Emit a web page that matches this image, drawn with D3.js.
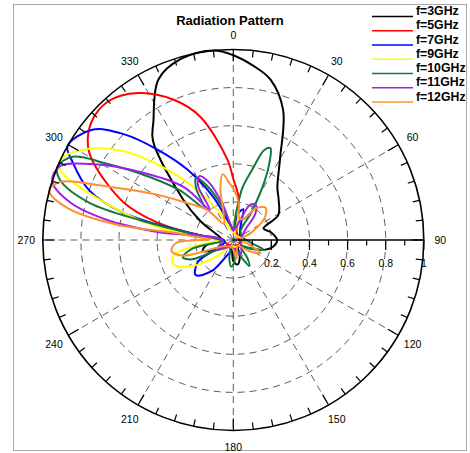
<!DOCTYPE html>
<html><head><meta charset="utf-8">
<script src="https://cdn.jsdelivr.net/npm/d3@7"></script>
<style>body{margin:0;background:#fff}svg{display:block}</style>
</head><body>
<svg id="chart" width="470" height="453"></svg>
<script>
// ---- data: [angle in degrees (0 = top, clockwise), normalized gain] ----
const seriesNames = ["f=3GHz", "f=5GHz", "f=7GHz", "f=9GHz", "f=10GHz", "f=11GHz", "f=12GHz"];
const seriesColors = ["#000000", "#ff0000", "#0000ff", "#ffff00", "#0f7a3e", "#a020e8", "#ff9032"];

const f3GHz = [[0,0.97],[6.6,0.92],[13,0.865],[21,0.73],[30,0.49],[40,0.36],[48,0.32],[61,0.27],[69,0.17],[78,0.2],[90,0.23],[100,0.21],[109,0.16],[120,0.08],[140,0.04],[160,0.1],[170,0.13],[180,0.11],[195,0.04],[225,0.04],[240,0.1],[250,0.17],[258,0.15],[270,0.06],[285,0.08],[300,0.2],[309,0.34],[321,0.67],[326,0.75],[335,0.93],[344,0.99],[354,1.0]];
const f5GHz = [[0,0.32],[6,0.24],[10,0.15],[20,0.05],[60,0.03],[120,0.04],[180,0.03],[240,0.04],[270,0.05],[278,0.18],[283,0.41],[289,0.61],[299,0.84],[303,0.91],[310,0.97],[318,0.98],[327,0.92],[337,0.80],[345,0.67],[356,0.42]];
const f7GHz = [[0,0.06],[10,0.14],[18,0.17],[28,0.08],[60,0.04],[120,0.05],[180,0.05],[200,0.08],[215,0.2],[227,0.27],[238,0.22],[252,0.05],[270,0.05],[277,0.14],[281,0.35],[284,0.6],[289,0.8],[296,0.94],[299.5,1.0],[308,0.94],[314,0.80],[320,0.62],[327,0.44],[335,0.25],[345,0.1]];
const f9GHz = [[0,0.04],[3,0.1],[8,0.18],[13,0.1],[20,0.03],[90,0.06],[150,0.04],[210,0.04],[225,0.12],[238,0.26],[248,0.34],[256,0.32],[264,0.12],[271,0.06],[275,0.18],[280,0.41],[286,0.69],[292,0.98],[295,1.0],[301,0.92],[309,0.74],[316,0.53],[323,0.35],[332,0.18],[345,0.06]];
const f10GHz = [[0,0.05],[5,0.12],[10,0.28],[15,0.38],[19,0.5],[22,0.52],[25,0.45],[28,0.35],[33,0.18],[40,0.06],[70,0.05],[100,0.1],[108,0.17],[116,0.1],[130,0.05],[142,0.12],[148,0.16],[155,0.1],[165,0.05],[178,0.12],[185,0.14],[192,0.1],[210,0.04],[238,0.1],[245,0.24],[251,0.28],[258,0.22],[265,0.05],[271,0.07],[279,0.23],[282,0.5],[284.5,0.78],[289,0.96],[292.5,1.0],[297.4,0.95],[301,0.78],[307,0.55],[313,0.38],[318,0.23],[324,0.33],[329,0.38],[334,0.32],[342,0.18],[350,0.08]];
const f11GHz = [[0,0.05],[18,0.1],[25,0.2],[32,0.22],[40,0.18],[50,0.08],[90,0.04],[150,0.08],[200,0.04],[240,0.1],[268,0.06],[276,0.40],[279,0.67],[283,0.88],[288,1.0],[293,0.99],[298,0.85],[306,0.61],[317,0.38],[322,0.2],[327,0.34],[332,0.38],[337,0.33],[343,0.2],[350,0.08]];
const f12GHz = [[0,0.27],[8,0.2],[15,0.12],[25,0.12],[35,0.2],[45,0.24],[55,0.2],[68,0.1],[85,0.04],[105,0.08],[115,0.16],[125,0.1],[145,0.04],[170,0.1],[190,0.04],[230,0.05],[245,0.1],[253,0.28],[260,0.33],[267,0.3],[272,0.12],[275,0.2],[277,0.32],[277.5,0.62],[281,0.89],[285,1.0],[288.5,0.96],[293,0.72],[301,0.46],[308,0.32],[319,0.21],[330,0.1],[340,0.15],[346,0.28],[351,0.35],[356,0.3]];

const seriesData = [f3GHz, f5GHz, f7GHz, f9GHz, f10GHz, f11GHz, f12GHz];

const radialGrid = [0.2, 0.4, 0.6, 0.8];
const radialTickLabels = [0.2, 0.4, 0.6, 0.8, 1];
const radialMinorTicks = [0.1, 0.2, 0.3, 0.4, 0.5, 0.6, 0.7, 0.8, 0.9, 1.0];
const angleTickLabels = [0, 30, 60, 90, 120, 150, 180, 210, 240, 270, 300, 330];
const angleMinorStep = 6;
const titleText = "Radiation Pattern";

// ---- drawing ----
const svg = d3.select("#chart");
const cx = 233.3, cy = 240, R = 190.5;
const rScale = d3.scaleLinear().domain([0, 1]).range([0, R]);
const toRad = d => d * Math.PI / 180;
const px = (a, rr) => rr * Math.sin(toRad(a));
const py = (a, rr) => -rr * Math.cos(toRad(a));

// frame
svg.append("rect").attr("x", 13.5).attr("y", 4.5).attr("width", 453).attr("height", 446)
  .attr("fill", "none").attr("stroke", "#a8a8a8").attr("stroke-width", 1);

const g = svg.append("g").attr("transform", `translate(${cx},${cy})`);

// dashed grid circles
g.selectAll("circle.grid").data(radialGrid).join("circle")
  .attr("class", "grid").attr("r", d => rScale(d))
  .attr("fill", "none").attr("stroke", "#4a4a4a").attr("stroke-width", 0.9)
  .attr("stroke-dasharray", "7,5");

// dashed spokes
g.selectAll("line.spoke").data(angleTickLabels.filter(a => a !== 90)).join("line")
  .attr("class", "spoke")
  .attr("x1", 0).attr("y1", 0)
  .attr("x2", a => px(a, R)).attr("y2", a => py(a, R))
  .attr("stroke", "#4a4a4a").attr("stroke-width", 0.9).attr("stroke-dasharray", "7,5");

// series curves
const line = d3.lineRadial()
  .angle(d => toRad(d[0]))
  .radius(d => rScale(d[1]))
  .curve(d3.curveCatmullRomClosed.alpha(0.5));

g.selectAll("path.series").data(seriesData).join("path")
  .attr("class", "series")
  .attr("d", d => line(d))
  .attr("fill", "none")
  .attr("stroke", (d, i) => seriesColors[i])
  .attr("stroke-width", 2)
  .attr("stroke-linejoin", "round");

// outer circle
g.append("circle").attr("r", R).attr("fill", "none").attr("stroke", "#000").attr("stroke-width", 1.6);

// angular ticks
const angTicks = d3.range(0, 360, angleMinorStep);
g.selectAll("line.atick").data(angTicks).join("line")
  .attr("class", "atick")
  .attr("x1", a => px(a, R)).attr("y1", a => py(a, R))
  .attr("x2", a => px(a, R - (a % 30 === 0 ? 12 : 7)))
  .attr("y2", a => py(a, R - (a % 30 === 0 ? 12 : 7)))
  .attr("stroke", "#000").attr("stroke-width", 1.2);

// angle labels
g.selectAll("text.alabel").data(angleTickLabels).join("text")
  .attr("class", "alabel")
  .attr("x", a => px(a, 207)).attr("y", a => py(a, 207) + (a === 0 ? 1.5 : 0))
  .attr("text-anchor", "middle").attr("dominant-baseline", "central")
  .attr("font-family", "Liberation Sans, Arial, sans-serif").attr("font-size", 10.5)
  .attr("fill", "#000")
  .text(a => a);

// radial axis (along 90°)
g.append("line").attr("x1", 0).attr("y1", 0).attr("x2", R).attr("y2", 0)
  .attr("stroke", "#000").attr("stroke-width", 1.3);
g.selectAll("line.rtick").data(radialMinorTicks).join("line")
  .attr("class", "rtick")
  .attr("x1", d => rScale(d)).attr("x2", d => rScale(d))
  .attr("y1", 0).attr("y2", (d, i) => (i % 2 === 1 ? 10 : 5.5))
  .attr("stroke", "#000").attr("stroke-width", 1.2);
g.selectAll("text.rlabel").data(radialTickLabels).join("text")
  .attr("class", "rlabel")
  .attr("x", d => rScale(d)).attr("y", 27)
  .attr("text-anchor", "middle")
  .attr("font-family", "Liberation Sans, Arial, sans-serif").attr("font-size", 10.5)
  .attr("fill", "#000")
  .text(d => d);

// title
svg.append("text").attr("x", 230).attr("y", 24.5).attr("text-anchor", "middle")
  .attr("font-family", "Liberation Sans, Arial, sans-serif").attr("font-size", 13)
  .attr("font-weight", "bold").text(titleText);

// legend
const leg = svg.append("g");
seriesNames.forEach((name, i) => {
  const y = 15 + i * 14.25;
  leg.append("line").attr("x1", 372).attr("x2", 413).attr("y1", y + 1.5).attr("y2", y + 1.5)
    .attr("stroke", seriesColors[i]).attr("stroke-width", 1.5);
  leg.append("text").attr("x", 416).attr("y", y)
    .attr("font-family", "Liberation Sans, Arial, sans-serif").attr("font-size", 12.3)
    .attr("font-weight", "bold").text(name);
});
</script>
</body></html>
